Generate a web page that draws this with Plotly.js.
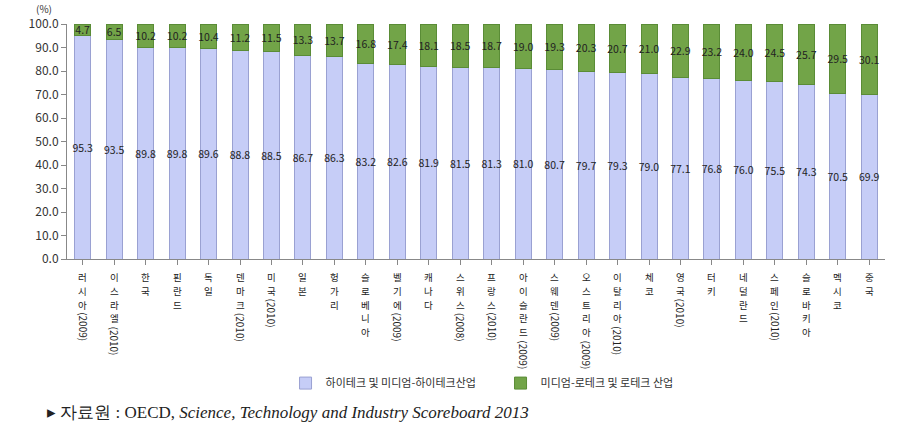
<!DOCTYPE html>
<html>
<head>
<meta charset="utf-8">
<script src="https://cdn.plot.ly/plotly-3.0.1.min.js"></script>
<style>html,body{margin:0;padding:0;background:#fff;}#chart{width:916px;height:439px;}</style>
</head>
<body>
<div id="chart"></div>
<script>
// Country names (Korean part) and reference-year notes
var countryNames = ['러시아','이스라엘','한국','핀란드','독일','덴마크','미국','일본','헝가리','슬로베니아','벨기에','캐나다','스위스','프랑스','아이슬란드','스웨덴','오스트리아','이탈리아','체코','영국','터키','네덜란드','스페인','슬로바키아','멕시코','중국'];
var yearNotes = ['(2009)','(2010)','','','','(2010)','(2010)','','','','(2009)','','(2008)','(2010)','(2009)','(2009)','(2009)','(2010)','','(2010)','','','(2010)','','',''];
// High-tech & medium-high-tech share (%)
var highTech = [95.3,93.5,89.8,89.8,89.6,88.8,88.5,86.7,86.3,83.2,82.6,81.9,81.5,81.3,81.0,80.7,79.7,79.3,79.0,77.1,76.8,76.0,75.5,74.3,70.5,69.9];
// Medium-low-tech & low-tech share (%)
var lowTech = [4.7,6.5,10.2,10.2,10.4,11.2,11.5,13.3,13.7,16.8,17.4,18.1,18.5,18.7,19.0,19.3,20.3,20.7,21.0,22.9,23.2,24.0,24.5,25.7,29.5,30.1];
var seriesNames = ['하이테크 및 미디엄-하이테크산업','미디엄-로테크 및 로테크 산업'];
var yTickVals = [0,10,20,30,40,50,60,70,80,90,100];

var xIdx = countryNames.map(function(_, i){ return i; });

var labelFont = {family: 'Noto Sans CJK KR, Noto Sans, sans-serif', size: 10.5, color: '#222'};

var traces = [
  {
    type: 'bar', x: xIdx, y: highTech, name: seriesNames[0],
    marker: {color: '#c6cdf7', line: {color: '#9aa1d2', width: 1}},
    text: highTech.map(function(v){ return v.toFixed(1); }),
    textposition: 'inside', insidetextanchor: 'middle', textangle: 0,
    constraintext: 'none', textfont: labelFont, hoverinfo: 'skip'
  },
  {
    type: 'bar', x: xIdx, y: lowTech, name: seriesNames[1],
    marker: {color: '#72a448', line: {color: '#5a8c36', width: 1}},
    text: lowTech.map(function(v){ return v.toFixed(1); }),
    textposition: 'inside', insidetextanchor: 'middle', textangle: 0,
    constraintext: 'none', textfont: labelFont, hoverinfo: 'skip'
  }
];

// Vertical (stacked, upright) category labels, one character per annotation
var annotations = [];
var charStep = 13.8, charTop = 9;
var catFont = {family: 'Noto Sans CJK KR, sans-serif', size: 9.5, color: '#222'};
countryNames.forEach(function(n, i){
  var chars = Array.from(n);
  chars.forEach(function(c, k){
    annotations.push({
      xref: 'x', yref: 'paper', x: i, y: 0, xanchor: 'center', yanchor: 'top',
      yshift: -(charTop + k * charStep), showarrow: false, text: c, font: catFont
    });
  });
  if (yearNotes[i]) {
    annotations.push({
      xref: 'x', yref: 'paper', x: i, y: 0, xanchor: 'center', yanchor: 'top',
      yshift: -(charTop + chars.length * charStep + 1), textangle: 90, showarrow: false,
      text: yearNotes[i], font: {family: 'Noto Sans CJK KR, sans-serif', size: 10, color: '#222'}
    });
  }
});
annotations.push({
  xref: 'paper', yref: 'paper', x: -0.028, y: 1.068, xanchor: 'center', yanchor: 'middle',
  showarrow: false, text: '(%)', font: {family: 'Noto Sans CJK KR, sans-serif', size: 10, color: '#333'}
});
annotations.push({
  xref: 'paper', yref: 'paper', x: -0.027, y: -0.655, xanchor: 'left', yanchor: 'middle',
  showarrow: false, text: '▸ 자료원 : OECD, <i>Science, Technology and Industry Scoreboard 2013</i>',
  font: {family: 'Liberation Serif, serif', size: 17, color: '#222'}
});

var layout = {
  width: 916, height: 439,
  margin: {l: 67, r: 31, t: 24, b: 180},
  paper_bgcolor: '#fff', plot_bgcolor: '#fff',
  barmode: 'stack', bargap: 0.49,
  showlegend: true,
  legend: {orientation: 'h', x: 0.53, xanchor: 'center', y: -0.528, yanchor: 'middle',
           font: {family: 'Noto Sans CJK KR, sans-serif', size: 11, color: '#333'},
           itemwidth: 30, traceorder: 'normal', entrywidth: 170},
  xaxis: {
    type: 'linear', range: [-0.5, 25.5], tickvals: xIdx, showticklabels: false,
    tickson: 'boundaries', ticks: 'outside', ticklen: 5, tickcolor: '#888',
    showline: true, linecolor: '#888', linewidth: 1, showgrid: false, zeroline: false
  },
  yaxis: {
    range: [0, 100], tickvals: yTickVals, tickformat: '.1f',
    ticks: 'outside', ticklen: 5, tickcolor: '#888',
    showline: true, linecolor: '#888', linewidth: 1, showgrid: false, zeroline: false,
    tickfont: {family: 'Noto Sans CJK KR, sans-serif', size: 12, color: '#333'}
  },
  annotations: annotations
};

Plotly.newPlot('chart', traces, layout, {displayModeBar: false, staticPlot: true});
</script>
</body>
</html>
